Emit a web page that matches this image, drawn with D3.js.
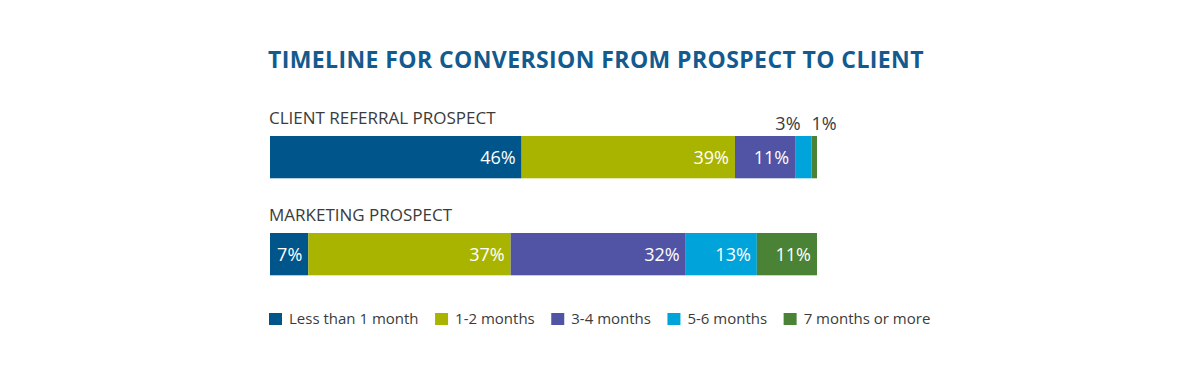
<!DOCTYPE html>
<html>
<head>
<meta charset="utf-8">
<script src="https://cdn.jsdelivr.net/npm/d3@7"></script>
<style>
  html, body { margin: 0; padding: 0; background: #ffffff; }
  svg { display: block; }
  text { font-family: "Open Sans", "Noto Sans", sans-serif; }
</style>
</head>
<body>
<svg id="chart" width="1200" height="372"></svg>
<script>
const title = "TIMELINE FOR CONVERSION FROM PROSPECT TO CLIENT";
const categories = ["CLIENT REFERRAL PROSPECT", "MARKETING PROSPECT"];
const seriesNames = ["Less than 1 month", "1-2 months", "3-4 months", "5-6 months", "7 months or more"];
const seriesColors = ["#00568B", "#A9B400", "#5153A4", "#00A3DA", "#4A8335"];
const clientReferral = [46, 39, 11, 3, 1];
const marketing = [7, 37, 32, 13, 11];
const rows = [clientReferral, marketing];

const svg = d3.select("#chart");

const x = d3.scaleLinear().domain([0, 100]).range([270, 817]);
const y = d3.scaleBand().domain(categories).range([136, 275.3]).paddingInner(0.564).paddingOuter(0);

// Title
svg.append("text")
  .attr("x", 268).attr("y", 68.3)
  .attr("fill", "#135A8F")
  .attr("font-size", 23)
  .attr("font-weight", 700)
  .attr("letter-spacing", 0.4)
  .text(title);

const labelSize = 18;

categories.forEach((cat, ci) => {
  const vals = rows[ci];
  const stacked = [];
  let acc = 0;
  vals.forEach((v, i) => { stacked.push({ i, v, x0: acc, x1: acc + v }); acc += v; });

  const g = svg.append("g");
  // Category label
  g.append("text")
    .attr("x", 269).attr("y", y(cat) - 12)
    .attr("fill", "#3b3b3b")
    .attr("font-size", 17)
    .text(cat);

  g.selectAll("rect").data(stacked).join("rect")
    .attr("x", d => x(d.x0))
    .attr("y", y(cat))
    .attr("width", d => x(d.x1) - x(d.x0))
    .attr("height", y.bandwidth())
    .attr("fill", d => seriesColors[d.i]);

  // Labels: inside if room, otherwise above bar
  const outside = [];
  stacked.forEach(d => {
    const w = x(d.x1) - x(d.x0);
    const t = g.append("text")
      .attr("font-size", labelSize)
      .text(d.v + "%");
    const tw = t.node().getComputedTextLength();
    if (tw + 10 <= w) {
      t.attr("x", x(d.x1) - 6)
       .attr("y", y(cat) + y.bandwidth() / 2 + 6.8)
       .attr("text-anchor", "end")
       .attr("fill", "#ffffff");
    } else {
      outside.push({ t, d, tw });
    }
  });
  // place outside labels right to left, avoiding overlap
  let nextStart = Infinity;
  for (let k = outside.length - 1; k >= 0; k--) {
    const o = outside[k];
    let start = x(o.d.x0);
    if (start + o.tw > nextStart - 11) start = nextStart - 11 - o.tw;
    o.t.attr("x", start)
       .attr("y", y(cat) - 6)
       .attr("fill", "#3b3b3b");
    nextStart = start;
  }
});

// Legend
const legend = svg.append("g");
let lx = 269;
seriesNames.forEach((name, i) => {
  legend.append("rect")
    .attr("x", lx).attr("y", 313)
    .attr("width", 13).attr("height", 12)
    .attr("fill", seriesColors[i]);
  const t = legend.append("text")
    .attr("x", lx + 20).attr("y", 323.5)
    .attr("font-size", 15)
    .attr("fill", "#3b3b3b")
    .text(name);
  lx += 20 + t.node().getComputedTextLength() + 16.5;
});
</script>
</body>
</html>
